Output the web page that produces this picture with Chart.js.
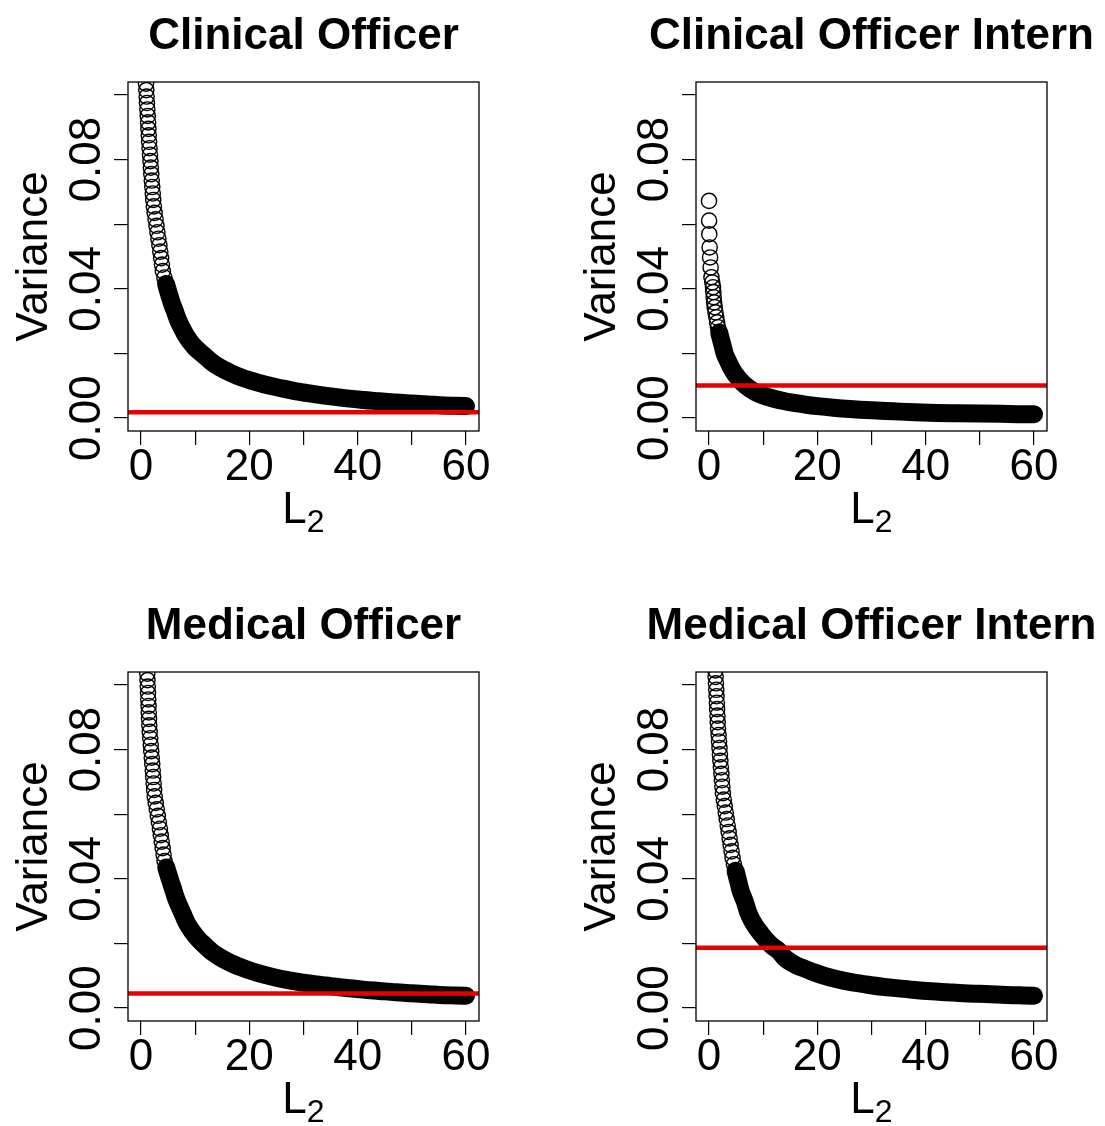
<!DOCTYPE html>
<html>
<head>
<meta charset="utf-8">
<script src="https://cdn.jsdelivr.net/npm/chart.js@4.4.1/dist/chart.umd.min.js"></script>
<style>
    html, body { margin: 0; padding: 0; background: #fff; }
    #wrap { position: relative; width: 1105px; height: 1126px; }
    .panel { position: absolute; width: 537px; height: 536px; }
</style>
</head>
<body>
<div id="wrap">
    <div class="panel" style="left:0;top:0"><canvas id="c1" width="537" height="536"></canvas></div>
    <div class="panel" style="left:568px;top:0"><canvas id="c2" width="537" height="536"></canvas></div>
    <div class="panel" style="left:0;top:590px"><canvas id="c3" width="537" height="536"></canvas></div>
    <div class="panel" style="left:568px;top:590px"><canvas id="c4" width="537" height="536"></canvas></div>
</div>
<script>
// titres des 4 panneaux
var titles = ['Clinical Officer', 'Clinical Officer Intern', 'Medical Officer', 'Medical Officer Intern'];

// axes
var xTicks = [0, 10, 20, 30, 40, 50, 60];
var xTickLabels = ['0', '', '20', '', '40', '', '60'];
var yTicks = [0, 0.02, 0.04, 0.06, 0.08, 0.10];
var yTickLabels = ['0.00', '', '0.04', '', '0.08', ''];
var xRange = [-2.4, 62.4];
var yRange = [-0.004, 0.104];

// red reference line (one per panel)
var cutoffs = [0.0018, 0.0101, 0.0045, 0.0187];
// below this variance the points are packed into a solid band
var denseBelow = [0.042, 0.027, 0.044, 0.043];

// Clinical Officer
var l2Clin = [0.92, 0.98, 1.04, 1.10, 1.17, 1.24, 1.31, 1.37, 1.43, 1.50, 1.58, 1.66, 1.74, 1.82, 1.90, 1.99, 2.08, 2.17,
    2.26, 2.37, 2.52, 2.69, 2.86, 3.03, 3.21, 3.40, 3.56, 3.72, 3.87, 4.03, 4.32, 4.63, 4.97, 5.33, 5.70,
    6.2, 6.8, 7.5, 8.2, 9, 10, 11.5, 13, 14.5, 16.5, 18.5, 20.5, 23, 26, 29, 32, 35, 38, 41, 44, 47, 50, 53, 56, 58, 60];
var varClin = [0.1035, 0.1015, 0.0995, 0.0975, 0.0955, 0.0935, 0.0915, 0.0895, 0.0875, 0.0855, 0.0835, 0.0815, 0.0795,
    0.0775, 0.0755, 0.0735, 0.0715, 0.0695, 0.0675, 0.0655, 0.0635, 0.0615, 0.0595, 0.0575, 0.0555, 0.0535, 0.0515, 0.0495,
    0.0475, 0.0455, 0.0435, 0.0415, 0.0395, 0.0375, 0.0355,
    0.0333, 0.0305, 0.0280, 0.0258, 0.0238, 0.0218, 0.0196, 0.0174, 0.0157, 0.0140, 0.0126, 0.0115, 0.0103, 0.0092,
    0.0082, 0.0074, 0.0067, 0.0061, 0.0056, 0.0052, 0.0048, 0.0045, 0.0042, 0.0039, 0.0038, 0.0037];

// Clinical Officer Intern
var l2ClinIntern = [0, 0.02, 0.05, 0.12, 0.2, 0.3, 0.45, 0.6, 0.74, 0.8, 0.86, 0.95, 1.05, 1.2, 1.35, 1.5, 1.66, 1.88, 2.1,
    2.5, 2.9, 3.4, 3.9, 4.4, 5.0, 5.7, 6.5, 7.5, 8.5, 10, 12, 14, 16, 18, 20, 23, 26, 30, 34, 38, 42, 46, 50, 54, 58, 60];
var varClinIntern = [0.0672, 0.0611, 0.0569, 0.0528, 0.0497, 0.0466, 0.0436, 0.0420, 0.0405, 0.0390, 0.0374, 0.0358,
    0.0343, 0.0327, 0.0312, 0.0296, 0.0281, 0.0265, 0.0250, 0.0225, 0.0199, 0.0180, 0.0162, 0.0147, 0.0132, 0.0118,
    0.0104, 0.0091, 0.0081, 0.0070, 0.0060, 0.0052, 0.0046, 0.0041, 0.0037, 0.0032, 0.0028, 0.0024, 0.0021, 0.0018,
    0.0016, 0.0015, 0.0014, 0.0013, 0.0012, 0.0012];

// Medical Officer
var l2Med = [1.16, 1.20, 1.25, 1.30, 1.34, 1.39, 1.43, 1.48, 1.53, 1.61, 1.70, 1.80, 1.89, 1.99, 2.08, 2.17, 2.25, 2.33,
    2.42, 2.53, 2.72, 2.91, 3.11, 3.30, 3.49, 3.66, 3.83, 4.00, 4.17, 4.35, 4.67, 5.02, 5.40, 5.8,
    6.4, 7.0, 7.7, 8.5, 9.5, 10.5, 11.5, 13, 14.5, 16.5, 18.5, 20.5, 23, 26, 29, 32, 35, 38, 41, 44, 47, 50, 53, 56, 58, 60];
var varMed = [0.1035, 0.1015, 0.0995, 0.0975, 0.0955, 0.0935, 0.0915, 0.0895, 0.0875, 0.0855, 0.0835, 0.0815, 0.0795,
    0.0775, 0.0755, 0.0735, 0.0715, 0.0695, 0.0675, 0.0655, 0.0635, 0.0615, 0.0595, 0.0575, 0.0555, 0.0535, 0.0515, 0.0495,
    0.0475, 0.0455, 0.0435, 0.0415, 0.0395, 0.0375,
    0.0343, 0.0318, 0.0292, 0.0262, 0.0236, 0.0215, 0.0198, 0.0175, 0.0158, 0.0140, 0.0126, 0.0114, 0.0102, 0.0090,
    0.0081, 0.0074, 0.0068, 0.0062, 0.0057, 0.0053, 0.0049, 0.0046, 0.0043, 0.0040, 0.0039, 0.0038];

// Medical Officer Intern
var l2MedIntern = [1.17, 1.22, 1.28, 1.34, 1.39, 1.45, 1.50, 1.56, 1.61, 1.67, 1.77, 1.85, 1.94, 2.02, 2.10, 2.19, 2.29,
    2.38, 2.47, 2.57, 2.73, 2.91, 3.09, 3.27, 3.45, 3.63, 3.81, 3.99, 4.17, 4.35, 4.60, 4.90, 5.20, 5.50, 5.80,
    6.6, 7.2, 7.9, 8.7, 9.6, 10.6, 11.6, 12.8, 14, 15.5, 17, 19, 21, 23.5, 26, 29, 32, 35, 38, 41, 44, 47, 50, 53, 56, 58, 60];
var varMedIntern = [0.1045, 0.1025, 0.1005, 0.0985, 0.0965, 0.0945, 0.0925, 0.0905, 0.0885, 0.0865, 0.0845, 0.0825,
    0.0805, 0.0785, 0.0765, 0.0745, 0.0725, 0.0705, 0.0685, 0.0665, 0.0645, 0.0625, 0.0605, 0.0585, 0.0565, 0.0545,
    0.0525, 0.0505, 0.0485, 0.0465, 0.0445, 0.0425, 0.0405, 0.0385, 0.0365,
    0.0330, 0.0298, 0.0272, 0.0250, 0.0230, 0.0210, 0.0193, 0.0178, 0.0155, 0.0138, 0.0126, 0.0113, 0.0101, 0.0090,
    0.0081, 0.0073, 0.0066, 0.0061, 0.0056, 0.0052, 0.0049, 0.0046, 0.0044, 0.0042, 0.0040, 0.0039, 0.0038];

var panels = [
    { id: 'c1', l2: l2Clin, v: varClin },
    { id: 'c2', l2: l2ClinIntern, v: varClinIntern },
    { id: 'c3', l2: l2Med, v: varMed },
    { id: 'c4', l2: l2MedIntern, v: varMedIntern }
];

var FONT = '"Liberation Sans", Arial, sans-serif';

// cadre, titre, étiquettes des axes (façon graphique R)
var decorPlugin = {
    id: 'decor',
    afterDraw: function (chart, args, opts) {
        var ctx = chart.ctx, a = chart.chartArea;
        var xs = chart.scales.x, ys = chart.scales.y;
        var cx = (a.left + a.right) / 2;
        ctx.save();
        ctx.strokeStyle = '#000';
        ctx.lineWidth = 1.3;
        ctx.strokeRect(a.left, a.top, a.right - a.left, a.bottom - a.top);

        ctx.fillStyle = '#000';
        ctx.textBaseline = 'alphabetic';
        ctx.textAlign = 'center';
        ctx.font = 'bold 44px ' + FONT;
        ctx.fillText(opts.title, cx, a.top - 33);

        ctx.font = '44px ' + FONT;
        xTicks.forEach(function (v, i) {
            if (xTickLabels[i]) ctx.fillText(xTickLabels[i], xs.getPixelForValue(v), a.bottom + 49);
        });

        // L2 avec indice
        ctx.textAlign = 'left';
        var wL = ctx.measureText('L').width;
        ctx.font = '32px ' + FONT;
        var w2 = ctx.measureText('2').width;
        var x0 = cx - (wL + w2) / 2;
        ctx.font = '44px ' + FONT;
        ctx.fillText('L', x0, a.bottom + 92);
        ctx.font = '32px ' + FONT;
        ctx.fillText('2', x0 + wL, a.bottom + 101);

        ctx.font = '44px ' + FONT;
        ctx.textAlign = 'center';
        yTicks.forEach(function (v, i) {
            if (!yTickLabels[i]) return;
            ctx.save();
            ctx.translate(a.left - 28, ys.getPixelForValue(v));
            ctx.rotate(-Math.PI / 2);
            ctx.fillText(yTickLabels[i], 0, 0);
            ctx.restore();
        });
        ctx.save();
        ctx.translate(a.left - 81, (a.top + a.bottom) / 2);
        ctx.rotate(-Math.PI / 2);
        ctx.fillText('Variance', 0, 0);
        ctx.restore();
        ctx.restore();
    }
};

panels.forEach(function (p, k) {
    var pts = p.l2.map(function (x, i) { return { x: x, y: p.v[i] }; });
    var dense = pts.filter(function (pt) { return pt.y <= denseBelow[k]; });

    new Chart(document.getElementById(p.id), {
        type: 'scatter',
        data: {
            datasets: [
                {
                    type: 'line',
                    data: [{ x: xRange[0], y: cutoffs[k] }, { x: xRange[1], y: cutoffs[k] }],
                    borderColor: '#e60000', borderWidth: 4.5, pointRadius: 0, order: 0, clip: 0
                },
                {
                    type: 'line',
                    data: dense,
                    borderColor: '#000', borderWidth: 18, pointRadius: 0,
                    borderCapStyle: 'round', borderJoinStyle: 'round',
                    cubicInterpolationMode: 'monotone', order: 1, clip: 0
                },
                {
                    data: pts,
                    pointRadius: 7.6, borderWidth: 1.4, borderColor: '#000',
                    backgroundColor: 'rgba(0,0,0,0)', order: 2, clip: 0
                }
            ]
        },
        options: {
            responsive: false,
            animation: false,
            events: [],
            layout: { padding: { left: 114, right: 58, top: 82, bottom: 91 } },
            plugins: {
                legend: { display: false },
                tooltip: { enabled: false },
                decor: { title: titles[k] }
            },
            scales: {
                x: {
                    type: 'linear', min: xRange[0], max: xRange[1],
                    afterBuildTicks: function (s) { s.ticks = xTicks.map(function (v) { return { value: v }; }); },
                    afterFit: function (s) { s.height = 14; },
                    ticks: { display: false },
                    grid: { drawOnChartArea: false, drawTicks: true, tickLength: 14, color: '#000', lineWidth: 1.2 },
                    border: { display: false }
                },
                y: {
                    type: 'linear', min: yRange[0], max: yRange[1],
                    afterBuildTicks: function (s) { s.ticks = yTicks.map(function (v) { return { value: v }; }); },
                    afterFit: function (s) { s.width = 14; },
                    ticks: { display: false },
                    grid: { drawOnChartArea: false, drawTicks: true, tickLength: 14, color: '#000', lineWidth: 1.2 },
                    border: { display: false }
                }
            }
        },
        plugins: [decorPlugin]
    });
});
</script>
</body>
</html>
